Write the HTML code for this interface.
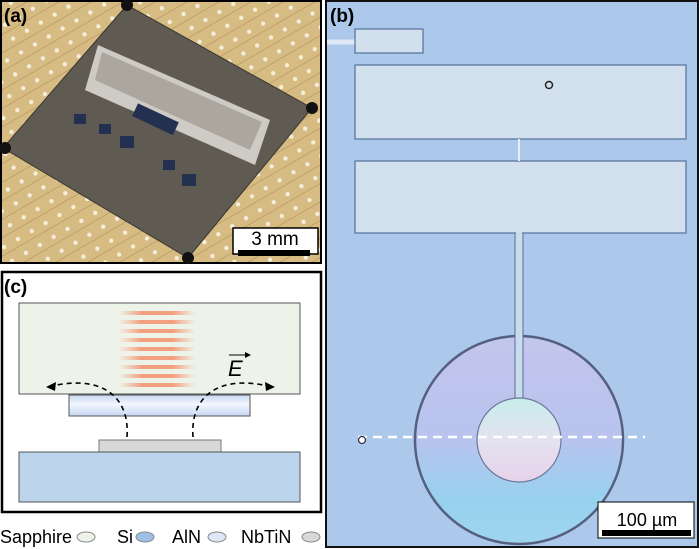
<!DOCTYPE html>
<html><head><style>
html,body{margin:0;padding:0;background:#fff;}
svg{display:block;}
text{font-family:"Liberation Sans",sans-serif;}
</style></head><body>
<svg width="700" height="549" viewBox="0 0 700 549" xmlns="http://www.w3.org/2000/svg">
<defs>
<linearGradient id="ring2" x1="0" y1="0" x2="0" y2="1">
<stop offset="0" stop-color="#c3c5ec"/><stop offset="0.5" stop-color="#b8c3ee"/><stop offset="0.8" stop-color="#96d2ee"/><stop offset="1" stop-color="#a0d4ee"/>
</linearGradient>
<linearGradient id="inner" x1="0" y1="0" x2="0" y2="1">
<stop offset="0" stop-color="#c8ecec"/><stop offset="0.5" stop-color="#e4e2f0"/><stop offset="1" stop-color="#e6d2ea"/>
</linearGradient>
<linearGradient id="aln" x1="0" y1="0" x2="0" y2="1">
<stop offset="0" stop-color="#c8d8f2"/><stop offset="0.45" stop-color="#f2f6fd"/><stop offset="1" stop-color="#c6d6f2"/>
</linearGradient>
<linearGradient id="stripe" x1="0" y1="0" x2="1" y2="0">
<stop offset="0" stop-color="#f4a88a" stop-opacity="0"/><stop offset="0.3" stop-color="#f2a080"/><stop offset="0.7" stop-color="#f2a080"/><stop offset="1" stop-color="#f4a88a" stop-opacity="0"/>
</linearGradient>
<pattern id="dots" width="16" height="16" patternUnits="userSpaceOnUse" patternTransform="rotate(-30)">
<rect width="16" height="16" fill="#d6bb82"/>
<circle cx="8" cy="8" r="2.2" fill="#f6eedc"/>
<path d="M0 15 H16" stroke="#c0a26a" stroke-width="1"/>
</pattern>
</defs>

<!-- Panel a -->
<rect x="1" y="1" width="320" height="262" fill="url(#dots)" stroke="#000" stroke-width="2"/>
<polygon points="127,5 312,108 188,258 3,148" fill="#5f5a52" stroke="#3a3630" stroke-width="1"/>
<circle cx="127" cy="5" r="6" fill="#111"/><circle cx="312" cy="108" r="6" fill="#111"/>
<circle cx="188" cy="258" r="6" fill="#111"/><circle cx="5" cy="148" r="6" fill="#111"/>
<polygon points="98,45 270,120 255,165 85,90" fill="#e2ded8" opacity="0.85"/>
<polygon points="102,52 262,122 250,150 95,80" fill="#8e897f" opacity="0.55"/>
<rect x="74" y="114" width="12" height="10" fill="#233050"/><rect x="99" y="124" width="12" height="10" fill="#233050"/>
<rect x="120" y="136" width="14" height="12" fill="#233050"/><rect x="163" y="160" width="12" height="10" fill="#233050"/>
<rect x="182" y="174" width="14" height="12" fill="#233050"/><rect x="133" y="112" width="45" height="14" fill="#233050" transform="rotate(25 155 119)"/>
<rect x="233" y="228" width="85" height="26" fill="#fff" stroke="#000" stroke-width="1.5"/>
<text x="275" y="245" font-size="19" text-anchor="middle" fill="#000">3 mm</text>
<rect x="238" y="250" width="72" height="6" fill="#000"/>
<text x="4" y="22" font-size="19" font-weight="bold" fill="#000">(a)</text>

<!-- Panel b -->
<rect x="326" y="1" width="372" height="546" fill="#acc8ea" stroke="#111" stroke-width="2"/>
<path d="M327 42 H355" stroke="#dfe8f5" stroke-width="5"/>
<rect x="355" y="29" width="68" height="24" fill="#d2e0ee" stroke="#55709a" stroke-width="1.2"/>
<rect x="355" y="65" width="331" height="74" fill="#d3e0ee" stroke="#55709a" stroke-width="1.2"/>
<rect x="355" y="161" width="331" height="72" fill="#d3e0ee" stroke="#55709a" stroke-width="1.2"/>
<path d="M519 139 V161" stroke="#e8eef8" stroke-width="2"/>
<circle cx="549" cy="85" r="3.5" fill="none" stroke="#222" stroke-width="1.5"/>
<circle cx="519" cy="440" r="104" fill="url(#ring2)" stroke="#556080" stroke-width="2.5"/>
<rect x="515" y="233" width="8" height="170" fill="#c8dcec" stroke="#55709a" stroke-width="1"/>
<rect x="516" y="232" width="6" height="172" fill="#c8dcec"/>
<circle cx="519" cy="440" r="42" fill="url(#inner)" stroke="#6a7898" stroke-width="1.2"/>
<path d="M358 437 H645" stroke="#fff" stroke-width="2.5" stroke-dasharray="9,6"/>
<circle cx="362" cy="440" r="3.5" fill="#fff" stroke="#334" stroke-width="1.3"/>
<rect x="598" y="502" width="96" height="36" fill="#fff" stroke="#000" stroke-width="1"/>
<text x="647" y="526" font-size="18" text-anchor="middle" fill="#000">100 µm</text>
<rect x="602" y="530" width="89" height="6" fill="#000"/>
<text x="330" y="22" font-size="19" font-weight="bold" fill="#000">(b)</text>

<!-- Panel c -->
<rect x="2" y="272" width="319" height="240" fill="#fff" stroke="#000" stroke-width="2.5"/>
<text x="4" y="293" font-size="19" font-weight="bold" fill="#000">(c)</text>
<rect x="19" y="303" width="281" height="91" fill="#eef3ea" stroke="#555" stroke-width="1"/>
<g fill="url(#stripe)">
<rect x="118" y="311" width="78" height="4" rx="2"/><rect x="118" y="320" width="78" height="4" rx="2"/>
<rect x="118" y="329" width="78" height="4" rx="2"/><rect x="118" y="338" width="78" height="4" rx="2"/>
<rect x="118" y="347" width="78" height="4" rx="2"/><rect x="118" y="356" width="78" height="4" rx="2"/>
<rect x="118" y="365" width="78" height="4" rx="2"/><rect x="118" y="374" width="78" height="4" rx="2"/>
<rect x="118" y="383" width="78" height="4" rx="2"/>
</g>
<rect x="69" y="395" width="181" height="21" fill="url(#aln)" stroke="#555" stroke-width="1"/>
<rect x="99" y="440" width="122" height="12" fill="#d8d8d8" stroke="#777" stroke-width="1"/>
<rect x="19" y="452" width="281" height="50" fill="#bcd5ec" stroke="#555" stroke-width="1"/>
<path d="M127 437 C130 395 100 375 52 386" fill="none" stroke="#000" stroke-width="1.6" stroke-dasharray="5,4"/>
<path d="M193 437 C190 395 220 375 268 386" fill="none" stroke="#000" stroke-width="1.6" stroke-dasharray="5,4"/>
<polygon points="46,387 56,382 55,391" fill="#000"/>
<polygon points="275,387 265,382 266,391" fill="#000"/>
<text x="228" y="376" font-size="22" font-style="italic" font-family="Liberation Serif" fill="#000">E</text>
<path d="M229 355 H248" stroke="#000" stroke-width="1"/>
<polygon points="251,355 245,352 245,358" fill="#000"/>

<!-- Legend -->
<text x="0" y="543" font-size="18" fill="#000">Sapphire</text>
<ellipse cx="86" cy="537" rx="9" ry="5" fill="#eef3ea" stroke="#888"/>
<text x="117" y="543" font-size="18" fill="#000">Si</text>
<ellipse cx="145" cy="537" rx="9" ry="5" fill="#9fc0e4" stroke="#888"/>
<text x="172" y="543" font-size="18" fill="#000">AlN</text>
<ellipse cx="217" cy="537" rx="9" ry="5" fill="#dce8f8" stroke="#888"/>
<text x="241" y="543" font-size="18" fill="#000">NbTiN</text>
<ellipse cx="311" cy="537" rx="9" ry="5" fill="#d8d8d8" stroke="#888"/>
</svg>
</body></html>
